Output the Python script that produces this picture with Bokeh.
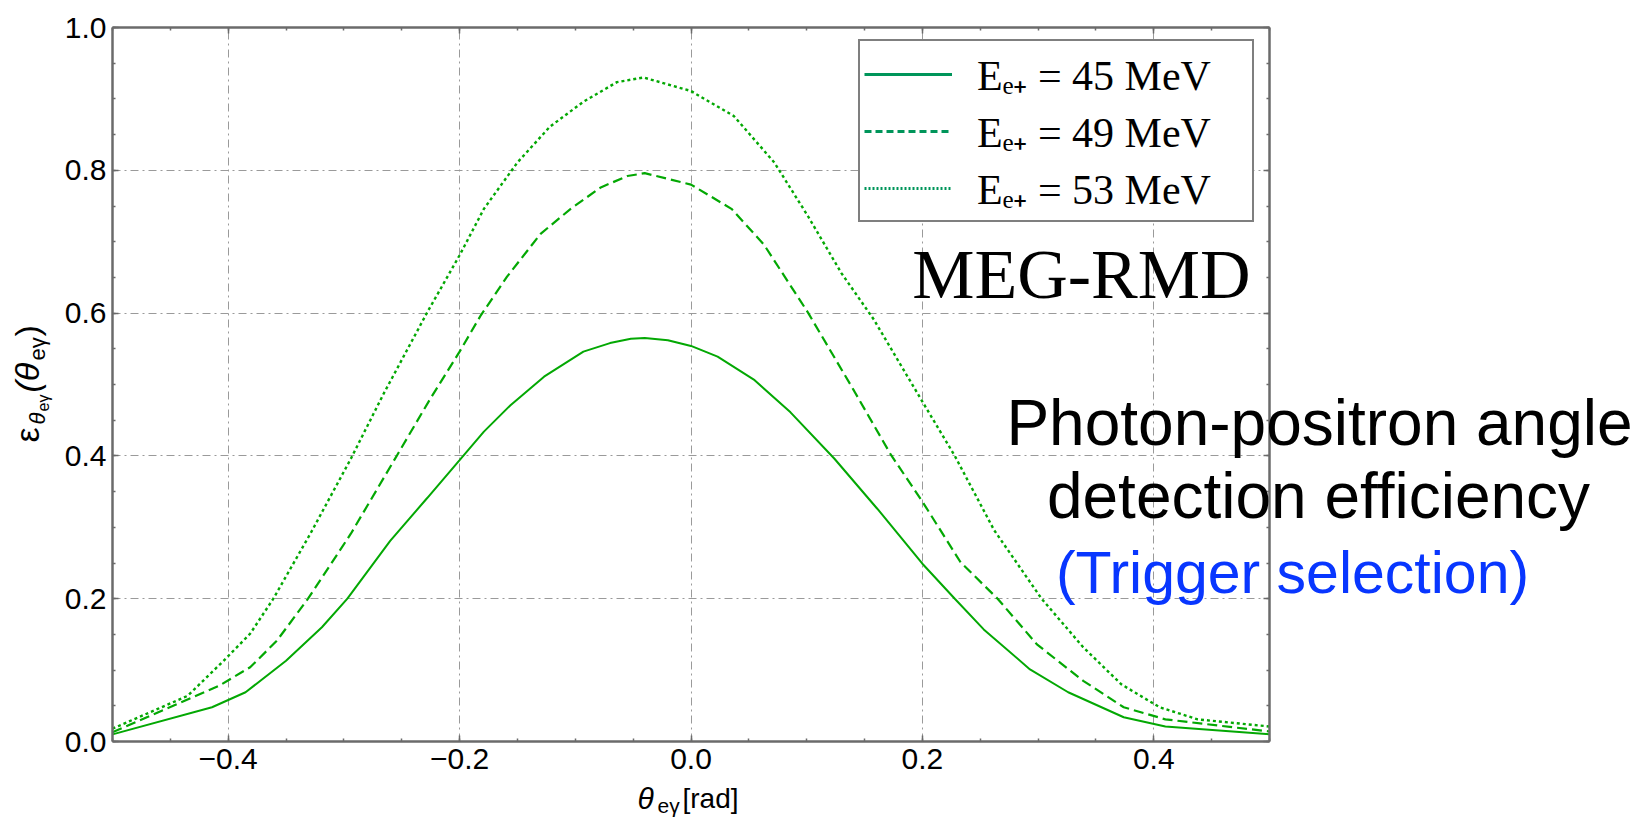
import math
from bokeh.plotting import figure
from bokeh.models import Range1d, FixedTicker, LinearAxis, Label, Legend, LegendItem, Grid
from bokeh.embed import file_html
from bokeh.resources import INLINE

# ---------------- data ----------------
theta_45 = [-0.5, -0.414, -0.385, -0.350, -0.319, -0.297, -0.260, -0.228, -0.200, -0.179,
            -0.156, -0.127, -0.093, -0.070, -0.052, -0.040, -0.020, 0.0, 0.023, 0.055,
            0.086, 0.124, 0.161, 0.200, 0.228, 0.253, 0.293, 0.326, 0.374, 0.410, 0.5]
eff_45 = [0.010, 0.048, 0.069, 0.113, 0.160, 0.200, 0.281, 0.341, 0.394, 0.434,
          0.471, 0.511, 0.546, 0.558, 0.564, 0.565, 0.562, 0.554, 0.539, 0.506,
          0.461, 0.396, 0.326, 0.249, 0.200, 0.157, 0.101, 0.069, 0.034, 0.021, 0.010]

theta_49 = [-0.5, -0.408, -0.381, -0.358, -0.331, -0.294, -0.254, -0.225, -0.200, -0.182,
            -0.159, -0.130, -0.104, -0.078, -0.055, -0.040, 0.0, 0.035, 0.063, 0.101,
            0.141, 0.173, 0.200, 0.233, 0.265, 0.299, 0.339, 0.374, 0.410, 0.5]
eff_49 = [0.013, 0.078, 0.104, 0.141, 0.200, 0.291, 0.401, 0.481, 0.546, 0.596,
          0.651, 0.711, 0.746, 0.776, 0.792, 0.796, 0.780, 0.746, 0.696, 0.601,
          0.491, 0.401, 0.336, 0.251, 0.200, 0.136, 0.085, 0.048, 0.031, 0.014]

theta_53 = [-0.5, -0.435, -0.404, -0.381, -0.361, -0.329, -0.294, -0.266, -0.228, -0.200,
            -0.179, -0.150, -0.122, -0.093, -0.064, -0.041, 0.0, 0.037, 0.072, 0.101,
            0.130, 0.158, 0.200, 0.228, 0.262, 0.303, 0.339, 0.372, 0.405, 0.438, 0.5]
eff_53 = [0.018, 0.064, 0.113, 0.151, 0.200, 0.291, 0.396, 0.486, 0.601, 0.681,
          0.746, 0.811, 0.861, 0.896, 0.9235, 0.930, 0.911, 0.876, 0.811, 0.736,
          0.656, 0.591, 0.476, 0.400, 0.296, 0.200, 0.132, 0.080, 0.048, 0.031, 0.021]

legend_labels = ["E\u2091\u208A = 45 MeV", "E\u2091\u208A = 49 MeV", "E\u2091\u208A = 53 MeV"]

x_ticks = [-0.4, -0.2, 0.0, 0.2, 0.4]
x_tick_labels = ["\u22120.4", "\u22120.2", "0.0", "0.2", "0.4"]
y_ticks = [0.0, 0.2, 0.4, 0.6, 0.8, 1.0]
y_tick_labels = ["0.0", "0.2", "0.4", "0.6", "0.8", "1.0"]
x_minor = [round(-0.5 + 0.05 * i, 2) for i in range(21)]
y_minor = [round(0.05 * i, 2) for i in range(21)]

# ---------------- layout ----------------
W, H = 1643, 820
FL, FR, FT, FB = 112, 1269, 27, 741   # plot box edges in pixels
X0, X1, Y0, Y1 = -0.5, 0.5, 0.0, 1.0
sx = (X1 - X0) / (FR - FL)
sy = (Y1 - Y0) / (FB - FT)

GREEN = "#03A803"
LEG_GREEN = "#00955A"
FRAME = "#6b6b6b"
SANS = "Liberation Sans"
SERIF = "Liberation Serif"

# the Bokeh frame covers the whole canvas so that the texts round the box are not clipped;
# the visible box is drawn by four axes fixed at the data limits
p = figure(width=W, height=H,
           x_range=Range1d(X0 - FL * sx, X1 + (W - FR) * sx),
           y_range=Range1d(Y0 - (H - FB) * sy, Y1 + FT * sy),
           output_backend="svg", toolbar_location=None, title=None,
           min_border=0, min_border_left=0, min_border_right=0,
           min_border_top=0, min_border_bottom=0)
p.background_fill_color = "white"
p.border_fill_color = "white"
p.outline_line_color = None

bottom = p.below[0]
left = p.left[0]

xt = FixedTicker(ticks=x_ticks, minor_ticks=x_minor)
yt = FixedTicker(ticks=y_ticks, minor_ticks=y_minor)

bottom.ticker = xt
left.ticker = yt
bottom.major_label_overrides = dict(zip(x_ticks, x_tick_labels))
left.major_label_overrides = dict(zip(y_ticks, y_tick_labels))
bottom.fixed_location = Y0
left.fixed_location = X0
bottom.bounds = (X0, X1)
left.bounds = (Y0, Y1)

top = LinearAxis(ticker=xt, fixed_location=Y1, bounds=(X0, X1))
right = LinearAxis(ticker=yt, fixed_location=X1, bounds=(Y0, Y1))
p.add_layout(top, "above")
p.add_layout(right, "right")

for ax in [bottom, left, top, right]:
    ax.axis_line_color = FRAME
    ax.axis_line_width = 2.5
    ax.major_tick_line_color = FRAME
    ax.major_tick_line_width = 1.5
    ax.minor_tick_line_color = FRAME
    ax.minor_tick_line_width = 1.5
    ax.major_tick_in = 6
    ax.major_tick_out = 0
    ax.minor_tick_in = 3
    ax.minor_tick_out = 0
    ax.major_label_text_font = SANS
    ax.major_label_text_color = "black"
    ax.major_label_text_font_size = "30px"

for ax in [top, right]:
    ax.major_label_text_font_size = "1px"
    ax.major_label_text_alpha = 0
    ax.major_label_standoff = 0

bottom.major_label_standoff = 7
left.major_label_standoff = 6

p.xgrid.ticker = xt
p.ygrid.ticker = yt
if "cross_bounds" in Grid.properties():
    p.xgrid[0].cross_bounds = (Y0, Y1)
    p.ygrid[0].cross_bounds = (X0, X1)
p.xgrid[0].bounds = (X0, X1)
p.ygrid[0].bounds = (Y0, Y1)
p.grid.grid_line_color = "#9a9a9a"
p.grid.grid_line_width = 1
p.grid.grid_line_dash = "8 4 2 4"

# ---------------- curves ----------------
r1 = p.line(theta_45, eff_45, line_color=GREEN, line_width=2)
r2 = p.line(theta_49, eff_49, line_color=GREEN, line_width=2.2, line_dash="10 5")
r3 = p.line(theta_53, eff_53, line_color=GREEN, line_width=2.4, line_dash="3 3")

# legend samples use the legend's own (bluish) green; these renderers draw nothing on the plot
nan = float("nan")
l1 = p.line([nan], [nan], line_color=LEG_GREEN, line_width=3)
l2 = p.line([nan], [nan], line_color=LEG_GREEN, line_width=3, line_dash="7 4")
l3 = p.line([nan], [nan], line_color=LEG_GREEN, line_width=3, line_dash="2 2")

legend = Legend(items=[LegendItem(label=legend_labels[0], renderers=[l1]),
                       LegendItem(label=legend_labels[1], renderers=[l2]),
                       LegendItem(label=legend_labels[2], renderers=[l3])],
                location=(858, H - 222),
                glyph_width=88, glyph_height=54, label_height=54, label_width=271,
                label_standoff=25, padding=4, spacing=0, margin=0,
                border_line_color="black", border_line_width=2,
                background_fill_color="white", background_fill_alpha=1.0,
                label_text_font=SERIF, label_text_font_size="42px",
                label_text_color="black", label_text_baseline="middle")
p.add_layout(legend)

BASE_SHIFT = 0.35  # Bokeh draws the "alphabetic" anchor about this many em below the baseline


def txt_label(text, px, py, size, font=SANS, align="left", color="black",
              style="normal", angle=0.0):
    # px, py: canvas pixels (from top-left) of the wanted text baseline start
    fs = float(size.replace("px", ""))
    if angle == 0.0:
        py = py - BASE_SHIFT * fs
    else:
        px = px - BASE_SHIFT * fs
    return Label(x=px, y=py, x_units="canvas", y_units="canvas", text=text,
                 text_align=align, text_baseline="alphabetic", text_font=font,
                 text_font_size=size, text_font_style=style, text_color=color,
                 angle=angle)


p.add_layout(txt_label("MEG-RMD", 1250, 298, "70px", font=SERIF, align="right"))
p.add_layout(txt_label("Photon-positron angle", 1319, 445, "64px", align="center"))
p.add_layout(txt_label("detection efficiency", 1318, 518, "64px", align="center"))
p.add_layout(txt_label("(Trigger selection)", 1292, 593, "59px", align="center",
                       color="#0836FF"))

# x-axis label: θ_eγ[rad]
p.add_layout(txt_label("\u03b8", 637, 808, "30px", style="italic"))
p.add_layout(txt_label("e\u03b3", 657, 812, "21px"))
p.add_layout(txt_label("[rad]", 682, 808, "28px"))

# y-axis label: ε_{θ_eγ}(θ_eγ), rotated, built bottom-to-top
pieces = [  # text, font size, baseline x px, advance px, style
    ("\u03b5", "34px", 38, 18, "normal"),
    ("\u03b8", "22px", 45, 13, "italic"),
    ("e\u03b3", "16px", 49, 19, "normal"),
    ("(\u03b8", "34px", 38, 32, "italic"),
    ("e\u03b3", "22px", 45, 24, "normal"),
    (")", "34px", 38, 12, "normal"),
]
ypos = 442
for t, fs, bx, adv, style in pieces:
    p.add_layout(txt_label(t, bx, ypos, fs, style=style, angle=math.pi / 2))
    ypos -= adv

open("out.html", "w").write(file_html(p, INLINE))
